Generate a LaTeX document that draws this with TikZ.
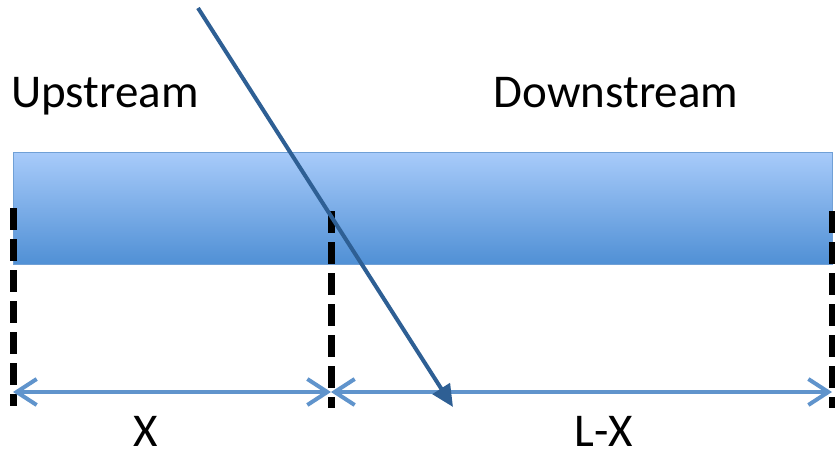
\documentclass[tikz,border=0pt]{standalone}
\usepackage{fontspec}
\setmainfont{Carlito}
\usetikzlibrary{arrows.meta}

\definecolor{barTop}{RGB}{168,203,250}
\definecolor{barBottom}{RGB}{80,144,213}
\definecolor{barEdge}{RGB}{112,160,214}
\definecolor{dimBlue}{RGB}{96,148,204}
\definecolor{flowBlue}{RGB}{46,95,148}

\begin{document}
\begin{tikzpicture}[
    x=1pt, y=-1pt,
    every node/.style={font=\fontsize{47}{56}\selectfont, text=black, inner sep=0pt},
    bar/.style={draw=barEdge, line width=1pt, top color=barTop, bottom color=barBottom},
    marker/.style={line width=7pt, dash pattern=on 22pt off 9pt},
    dim/.style={dimBlue, line width=4pt, {Straight Barb[length=20pt,width=26pt]}-{Straight Barb[length=20pt,width=26pt]}},
    flow/.style={flowBlue, line width=4pt, -{Triangle[length=22pt,width=20pt]}}
]

    \useasboundingbox (0,0) rectangle (835,455);

    % --- THE BAR ---
    \coordinate (barNW) at (13,152);   % top left corner
    \coordinate (barSE) at (832,264);  % bottom right corner
    \path[bar] (barNW) rectangle (barSE);

    % --- DASHED MARKERS ---
    \coordinate (startTop) at (13,208);
    \coordinate (startBot) at (13,406);
    \coordinate (midTop) at (331,211);
    \coordinate (midBot) at (331,408);
    \coordinate (endTop) at (832,211);
    \coordinate (endBot) at (832,408);

    \draw[marker] (startTop) -- (startBot);
    \draw[marker] (midTop) -- (midBot);
    \draw[marker] (endTop) -- (endBot);

    % --- DIMENSION LINES ---
    \coordinate (dimStart) at (13,392);
    \coordinate (dimMid) at (331,392);
    \coordinate (dimEnd) at (832,392);

    \draw[dim] (dimStart) -- (dimMid);
    \draw[dim] (dimMid) -- (dimEnd);

    % --- FLOW ARROW ---
    \coordinate (flowIn) at (198,8);
    \coordinate (flowOut) at (453,407);
    \draw[flow] (flowIn) -- (flowOut);

    % Labels
    \node[anchor=base] (upLabel) at (105,107) {Upstream};
    \node[anchor=base] (downLabel) at (616,107) {Downstream};
    \node[anchor=base, text depth=0pt] (xLabel) at (146,446) {X};
    \node[anchor=base, text depth=0pt] (restLabel) at (604,446) {L-X};

\end{tikzpicture}
\end{document}
